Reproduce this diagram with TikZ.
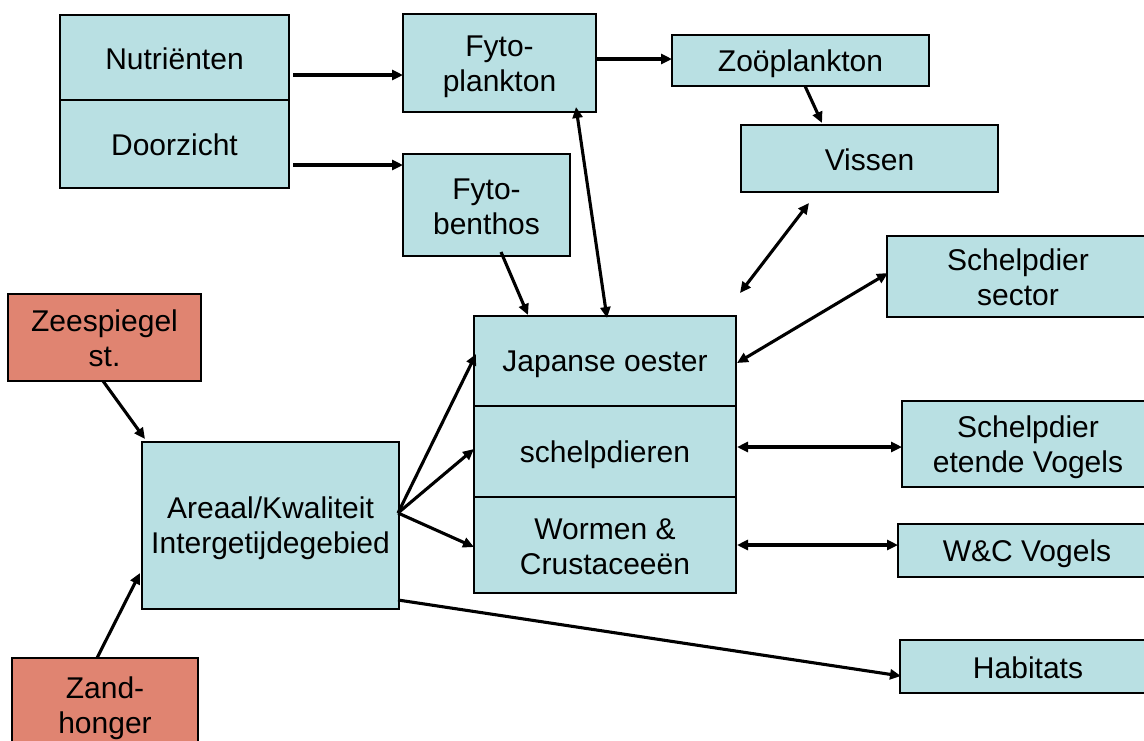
\documentclass[tikz,border=0pt]{standalone}
\usepackage{fontspec}
\setmainfont{Liberation Sans}
\usetikzlibrary{arrows.meta,calc}
\definecolor{boxcyan}{RGB}{185,224,227}
\definecolor{boxred}{RGB}{224,132,113}
% line strut: keeps every text line at the same height and depth
\newcommand\lnstrut{\rule[-5pt]{0pt}{33pt}}
\tikzset{
  box/.style={draw=black, line width=2.5pt, fill=boxcyan, inner sep=0pt, outer sep=0pt,
    align=center, font=\fontsize{30}{35}\selectfont},
  driver/.style={box, fill=boxred},
  tip/.tip={Triangle[length=11pt,width=10pt]},
  link/.style={line width=3.1pt, -tip},
  twoway/.style={line width=3.1pt, tip-tip},
}
\begin{document}
\begin{tikzpicture}[x=1pt, y=-1pt]
\useasboundingbox (0,0) rectangle (1144,740);
\clip (0,0) rectangle (1144,740);

% water column
\node[box, minimum width=229pt, minimum height=85pt] (nut) at (174.5,57.5) {\lnstrut Nutriënten};
\node[box, minimum width=229pt, minimum height=88pt] (door) at (174.5,144) {\lnstrut Doorzicht};
\node[box, minimum width=193pt, minimum height=98pt] (fplank) at (499.5,63) {\lnstrut Fyto-\\\lnstrut plankton};
\node[box, minimum width=167pt, minimum height=102pt] (fbent) at (486.5,205) {\lnstrut Fyto-\\\lnstrut benthos};
\node[box, minimum width=257pt, minimum height=51pt] (zoo) at (800.5,60.5) {\lnstrut Zoöplankton};
\node[box, minimum width=257pt, minimum height=67pt] (vis) at (869.5,158.5) {\lnstrut Vissen};

% benthic stack
\node[box, minimum width=262pt, minimum height=90pt] (jap) at (605,361) {\lnstrut Japanse oester};
\node[box, minimum width=262pt, minimum height=91pt] (schd) at (605,451.5) {\lnstrut schelpdieren};
\node[box, minimum width=262pt, minimum height=96pt] (worm) at (605,545) {\lnstrut Wormen \&\\\lnstrut Crustaceeën};

% users and predators
\node[box, minimum width=262pt, minimum height=81pt] (schsec) at (1018,276.5) {\lnstrut Schelpdier\\\lnstrut sector};
\node[box, minimum width=252pt, minimum height=86pt] (sev) at (1028,444) {\lnstrut Schelpdier\\\lnstrut etende Vogels};
\node[box, minimum width=258pt, minimum height=53pt] (wc) at (1027,550.5) {\lnstrut W\&C Vogels};
\node[box, minimum width=256pt, minimum height=53pt] (hab) at (1028,666.5) {\lnstrut Habitats};

% physical drivers and tidal flats
\node[driver, minimum width=193pt, minimum height=87pt] (zee) at (104.5,337.5) {\lnstrut Zeespiegel\\\lnstrut st.};
\node[driver, minimum width=186pt, minimum height=95pt] (zand) at (105,705.5) {\lnstrut Zand-\\\lnstrut honger};
\node[box, minimum width=257pt, minimum height=167pt] (areaal) at (270.5,525.5) {\lnstrut Areaal/Kwaliteit\\\lnstrut Intergetijdegebied};

% free ends of the fish link
\coordinate (visA) at (809,203);
\coordinate (visB) at (740,293);

% connectors
\draw[link] ($(nut.east)+(4,17.5)$) -- ($(fplank.west)+(0,12)$);
\draw[link] ($(door.east)+(4,21)$) -- ($(fbent.west)+(0,-40)$);
\draw[link] ($(fplank.east)+(0,-4)$) -- ($(zoo.west)+(0,-1.5)$);
\draw[link] ($(zoo.south)+(4.5,0)$) -- ($(vis.north)+(-47.5,-2)$);
\draw[link] ($(fbent.south)+(14.5,-4)$) -- ($(jap.north)+(-77,-1)$);
\draw[twoway] ($(fplank.south)+(76.5,-5)$) -- ($(jap.north)+(2,2)$);
\draw[twoway] (visA) -- (visB);
\draw[twoway] ($(jap.east)+(1,2)$) -- ($(schsec.west)+(1,-3.5)$);
\draw[twoway] ($(schd.east)+(1,-4.5)$) -- ($(sev.west)+(0,3)$);
\draw[twoway] ($(worm.east)+(1,0)$) -- ($(wc.west)+(0,-5.5)$);
\draw[link] ($(zee.south)+(-1.5,0)$) -- ($(areaal.north west)+(3,-3)$);
\draw[link] ($(zand.north)+(-8,0)$) -- ($(areaal.west)+(-2,47.5)$);
\draw[link] ($(areaal.east)+(-1,-12.5)$) -- ($(jap.west)+(2,-7)$);
\draw[link] ($(areaal.east)+(-1,-12.5)$) -- ($(schd.west)+(0,-2.5)$);
\draw[link] ($(areaal.east)+(-1,-12.5)$) -- ($(worm.west)+(0,2)$);
\draw[link] ($(areaal.south east)+(-1,-9)$) -- ($(hab.west)+(1,9.5)$);
\end{tikzpicture}
\end{document}
